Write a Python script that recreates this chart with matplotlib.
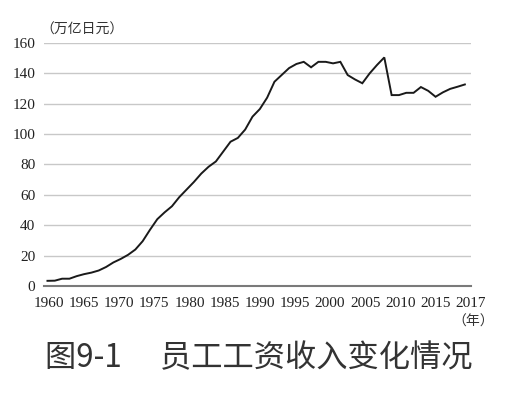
import numpy as np
import matplotlib
matplotlib.use("Agg")
import matplotlib.pyplot as plt

years = list(range(1960, 2018))
wages = [3.4, 3.5, 4.8, 4.8, 6.5, 7.8, 8.8, 10.2, 12.5, 15.5,
         17.8, 20.5, 24.0, 29.5, 37.0, 44.0, 48.5, 52.5, 58.5, 63.5,
         68.5, 74.0, 78.5, 82.0, 88.5, 95.0, 97.5, 103.0, 111.5, 116.5,
         124.0, 134.5, 139.0, 143.5, 146.2, 147.6, 144.0, 147.6, 147.6, 146.6,
         147.6, 138.9, 136.0, 133.5, 140.0, 145.5, 150.5, 125.7, 125.7, 127.2,
         127.2, 131.0, 128.5, 124.6, 127.5, 129.8, 131.2, 132.7]
xlabels = ["1960", "1965", "1970", "1975", "1980", "1985", "1990", "1995",
           "2000", "2005", "2010", "2015", "2017"]
yticks = [0, 20, 40, 60, 80, 100, 120, 140, 160]
unit_y = "（万亿日元）"
unit_x = "（年）"
title = "图9-1　 员工工资收入变化情况"

plt.rcParams["font.family"] = ["Liberation Serif", "DejaVu Serif"]
CJK = ["Noto Sans CJK SC", "DejaVu Sans"]

fig = plt.figure(figsize=(5.07, 3.96), dpi=100)
fig.patch.set_facecolor("white")
ax = fig.add_axes([0.0864, 0.2778, 0.8420, 0.6136])

ax.plot(years, wages, color="#1a1a1a", lw=1.4, solid_joinstyle="miter")

ax.set_xlim(years[0] - 0.5, years[-1] + 0.5)
ax.set_ylim(yticks[0], yticks[-1])
ax.set_yticks(yticks)
ax.set_yticklabels([str(v) for v in yticks], fontsize=11, color="#222222")
xt = np.linspace(years[0] + 0.2, years[-1] + 0.8, len(xlabels))
ax.set_xticks(xt)
ax.set_xticklabels(xlabels, fontsize=11, color="#222222")
ax.tick_params(axis="both", length=0)
ax.tick_params(axis="y", pad=6)
ax.tick_params(axis="x", pad=8)

ax.yaxis.grid(True, color="#c8c8c8", lw=1.0)
ax.set_axisbelow(True)
for s in ["top", "right", "left"]:
    ax.spines[s].set_visible(False)
ax.spines["bottom"].set_color("#7a7a7a")
ax.spines["bottom"].set_linewidth(1.5)

fig.text(40 / 507, 1 - 30 / 396, unit_y, family=CJK, fontsize=10, color="#333333",
         ha="left", va="center")
fig.text(494 / 507, 1 - 322 / 396, unit_x, family=CJK, fontsize=10, color="#333333",
         ha="right", va="center")
fig.text(259 / 507, 1 - 358 / 396, title, family=CJK, fontsize=22.5, color="#333333",
         ha="center", va="center")

fig.savefig("out.png", dpi=100, facecolor="white")
